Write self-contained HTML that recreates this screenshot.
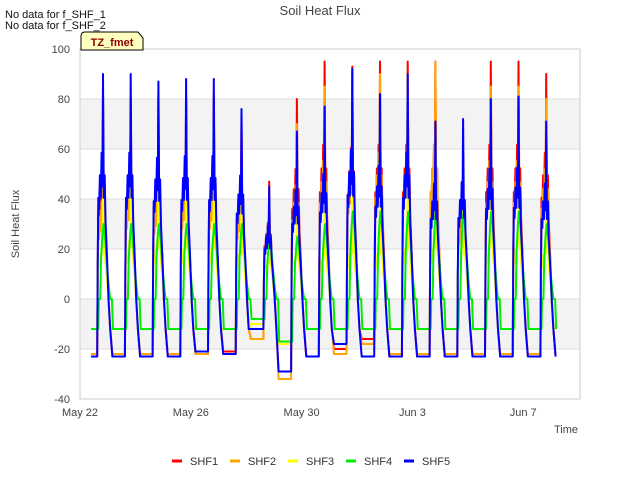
<!DOCTYPE html>
<html><head><meta charset="utf-8"><style>
body{margin:0;background:#fff;font-family:"Liberation Sans","DejaVu Sans",sans-serif}
</style></head><body>
<svg id="chart" width="640" height="480" xmlns="http://www.w3.org/2000/svg" font-family="Liberation Sans, DejaVu Sans, sans-serif">
<rect width="640" height="480" fill="#fff"/>
<g id="bands"></g>
<g id="grid"></g>
<rect x="80" y="49" width="500" height="350" fill="none" stroke="#ccc"/>
<g id="series"></g>
<g id="axes"></g>
<text x="320" y="15" text-anchor="middle" font-size="13" fill="#444">Soil Heat Flux</text>
<text transform="translate(19,224) rotate(-90)" text-anchor="middle" font-size="11" fill="#444">Soil Heat Flux</text>
<text x="578" y="433" text-anchor="end" font-size="11" fill="#444">Time</text>
<text x="5" y="18" font-size="11" fill="#111">No data for f_SHF_1</text>
<text x="5" y="29" font-size="11" fill="#111">No data for f_SHF_2</text>
<g>
<path d="M81,50 L81,36 Q81,32 85,32 L138,32 L143,38 L143,50 Z" fill="#ffffc0" stroke="#000"/>
<text x="112" y="46" text-anchor="middle" font-size="11" font-weight="bold" fill="#8b0000">TZ_fmet</text>
</g>
<g id="legend"></g>
</svg>
<script>
const yTicks=[-40,-20,0,20,40,60,80,100];
const xTickDays=[0,4,8,12,16];
const xTickLabels=["May 22","May 26","May 30","Jun 3","Jun 7"];
const seriesNames=["SHF1","SHF2","SHF3","SHF4","SHF5"];
const seriesColors=["#ff0000","#ffa500","#ffff00","#00ee00","#0000ff"];
const peakSHF1=[80,80,82,80,82,72,47,80,95,93,95,95,95,57,95,95,90];
const peakSHF2=[60,70,65,70,70,60,45,70,85,85,90,90,95,55,85,85,80];
const peakSHF3=[40,45,45,45,45,40,30,35,35,40,40,45,45,40,45,45,40];
const peakSHF4=[30,30,30,30,30,30,25,25,30,35,35,35,35,35,35,35,30];
const peakSHF5=[90,90,87,88,88,76,45,67,77,92,82,90,71,72,80,81,71];
const troughSHF1=[-23,-23,-23,-22,-21,-16,-29,-23,-20,-16,-23,-23,-23,-23,-23,-23,-23];
const troughSHF2=[-22,-22,-22,-22,-22,-16,-32,-23,-22,-18,-22,-22,-22,-22,-22,-22,-23];
const troughSHF3=[-12,-12,-12,-12,-12,-10,-18,-12,-12,-12,-12,-12,-12,-12,-12,-12,-12];
const troughSHF4=[-12,-12,-12,-12,-12,-8,-17,-12,-12,-12,-12,-12,-12,-12,-12,-12,-12];
const troughSHF5=[-23,-23,-23,-21,-22,-12,-29,-23,-18,-23,-23,-23,-23,-23,-23,-23,-23];
const peaks=[peakSHF1,peakSHF2,peakSHF3,peakSHF4,peakSHF5];
const troughs=[troughSHF1,troughSHF2,troughSHF3,troughSHF4,troughSHF5];
const peakPhase=0.83, startDay=0.4;
const X0=80,X1=580,Y0=399,Y1=49;
const xs=d=>X0+d*27.7;
const ys=v=>Y0-(v+40)/140*(Y0-Y1);
const NS="http://www.w3.org/2000/svg";
function mk(tag,attrs,parent){const e=document.createElementNS(NS,tag);for(const k in attrs)e.setAttribute(k,attrs[k]);parent.appendChild(e);return e;}
const bands=document.getElementById('bands'),grid=document.getElementById('grid'),axes=document.getElementById('axes');
for(let i=0;i<yTicks.length-1;i++){
  if(i%2===1){const b=mk('rect',{x:X0,y:ys(yTicks[i+1]),width:X1-X0,height:ys(yTicks[i])-ys(yTicks[i+1]),fill:'#f3f3f3'},bands);
  }
}
yTicks.forEach(v=>{
  const l=mk('line',{x1:X0,x2:X1,y1:ys(v),y2:ys(v),stroke:'#ddd'},grid);
  
  const t=mk('text',{x:X0-10,y:ys(v)+4,'text-anchor':'end','font-size':11,fill:'#444'},axes);t.textContent=v;
  
});
xTickDays.forEach((d,i)=>{
  const t=mk('text',{x:xs(d),y:416,'text-anchor':'middle','font-size':11,fill:'#444'},axes);t.textContent=xTickLabels[i];
  
});
const sg=document.getElementById('series');
[0,1,2,3,4].forEach(s=>{
  const pk=peaks[s],tr=troughs[s];const pts=[];
  const soil=(s===3);
  pts.push([startDay,tr[0]]);
  for(let d=0;d<pk.length;d++){
    const p=d+peakPhase;const prevT=d===0?tr[0]:tr[d-1];const P=pk[d];
    if(soil){
      pts.push([p-0.17,prevT]);pts.push([p-0.15,0]);pts.push([p-0.1,0]);
      pts.push([p-0.07,P*0.55]);pts.push([p-0.02,P*0.85]);pts.push([p+0.02,P]);
      pts.push([p+0.08,P*0.8]);pts.push([p+0.14,P*0.45]);pts.push([p+0.2,P*0.2]);
      pts.push([p+0.26,0]);pts.push([p+0.32,0]);pts.push([p+0.36,tr[d]]);
    } else {
      const f=(s===2)?0.8:1;
      pts.push([p-0.21,prevT]);pts.push([p-0.19,P*0.15*f]);pts.push([p-0.17,P*0.45*f]);
      pts.push([p-0.14,P*0.4*f]);pts.push([p-0.11,P*0.55*f]);pts.push([p-0.08,P*0.45*f]);
      pts.push([p-0.05,P*0.65*f]);pts.push([p-0.02,P*0.5]);pts.push([p,P]);
      pts.push([p+0.03,P*0.45]);pts.push([p+0.06,P*0.55]);pts.push([p+0.09,P*0.35]);
      pts.push([p+0.14,P*0.2]);pts.push([p+0.2,0]);pts.push([p+0.26,-12]);pts.push([p+0.34,tr[d]]);
    }
  }
  const last=pk.length-1+peakPhase+0.4;
  const path=mk('polyline',{points:pts.filter(q=>q[0]<=last+0.01).map(q=>xs(q[0]).toFixed(1)+','+ys(q[1]).toFixed(1)).join(' '),fill:'none',stroke:seriesColors[s],'stroke-width':2,'stroke-linejoin':'round'},sg);
  
  
});
const lg=document.getElementById('legend');
seriesNames.forEach((n,i)=>{
  const g=mk('g',{},lg);
  
  
  const x=172+i*58;
  mk('line',{x1:x,x2:x+10,y1:461,y2:461,stroke:seriesColors[i],'stroke-width':3},g);
  const t=mk('text',{x:x+18,y:465,'font-size':11,fill:'#333'},g);t.textContent=n;
});
</script>
</body></html>
